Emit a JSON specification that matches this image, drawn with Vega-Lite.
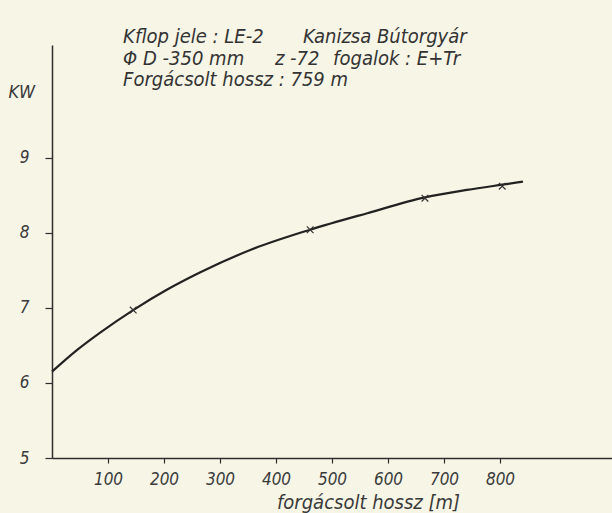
{
  "$schema": "https://vega.github.io/schema/vega-lite/v6.json",
  "width": 560,
  "height": 413,
  "autosize": "none",
  "padding": {"left": 52, "top": 45, "right": 0, "bottom": 55},
  "background": "#f7f5e6",
  "config": {
    "view": {"stroke": null},
    "font": "'DejaVu Sans Condensed', 'DejaVu Sans', sans-serif",
    "axis": {
      "domainColor": "#2e2e2e",
      "domainWidth": 1.5,
      "tickColor": "#2e2e2e",
      "tickWidth": 1.2,
      "grid": false,
      "labelColor": "#3a3a3a",
      "labelFontStyle": "italic",
      "labelFontWeight": 300,
      "titleColor": "#3a3a3a",
      "titleFontStyle": "italic",
      "titleFontWeight": 300
    }
  },
  "datasets": {
    "curve": [
      {"x": 0, "y": 6.15},
      {"x": 45, "y": 6.44},
      {"x": 86, "y": 6.67},
      {"x": 145, "y": 6.97},
      {"x": 205, "y": 7.24},
      {"x": 264, "y": 7.47},
      {"x": 354, "y": 7.77},
      {"x": 461, "y": 8.04},
      {"x": 563, "y": 8.26},
      {"x": 666, "y": 8.47},
      {"x": 741, "y": 8.57},
      {"x": 804, "y": 8.64},
      {"x": 841, "y": 8.68}
    ],
    "measured": [
      {"x": 145, "y": 6.97},
      {"x": 461, "y": 8.04},
      {"x": 666, "y": 8.46},
      {"x": 804, "y": 8.62}
    ],
    "notes": [
      {"label": "Kflop jele : LE-2", "x": 127, "y": 10.61},
      {"label": "Kanizsa Bútorgyár", "x": 448, "y": 10.61},
      {"label": "Φ D -350 mm", "x": 127, "y": 10.32},
      {"label": "z -72", "x": 398, "y": 10.32},
      {"label": "fogalok : E+Tr", "x": 502, "y": 10.32},
      {"label": "Forgácsolt hossz : 759 m", "x": 127, "y": 10.03}
    ]
  },
  "encoding": {
    "x": {
      "field": "x",
      "type": "quantitative",
      "scale": {"domain": [0, 1000], "nice": false, "zero": false},
      "axis": {
        "values": [100, 200, 300, 400, 500, 600, 700, 800],
        "tickSize": 5,
        "labelPadding": 8,
        "labelFontSize": 17,
        "title": "forgácsolt hossz [m]",
        "titleFontSize": 20,
        "titleX": 316,
        "titleY": 50,
        "titleAlign": "center",
        "titleBaseline": "alphabetic"
      }
    },
    "y": {
      "field": "y",
      "type": "quantitative",
      "scale": {"domain": [5, 10.5], "nice": false, "zero": false},
      "axis": {
        "values": [5, 6, 7, 8, 9],
        "tickSize": 7,
        "labelPadding": 16,
        "labelFontSize": 17,
        "title": "KW",
        "titleAngle": 0,
        "titleFontSize": 18,
        "titleX": -44,
        "titleY": 47,
        "titleAlign": "left",
        "titleBaseline": "middle"
      }
    }
  },
  "layer": [
    {
      "data": {"name": "curve"},
      "mark": {"type": "line", "interpolate": "monotone", "color": "#222222", "strokeWidth": 2.2}
    },
    {
      "data": {"name": "measured"},
      "mark": {"type": "point", "shape": "M-1,-1L1,1M-1,1L1,-1", "filled": false, "size": 45, "color": "#333333", "strokeWidth": 1.2, "opacity": 1}
    },
    {
      "data": {"name": "notes"},
      "mark": {"type": "text", "align": "left", "baseline": "middle", "fontSize": 20, "fontStyle": "italic", "fontWeight": 300, "color": "#333333"},
      "encoding": {"text": {"field": "label"}}
    }
  ]
}
